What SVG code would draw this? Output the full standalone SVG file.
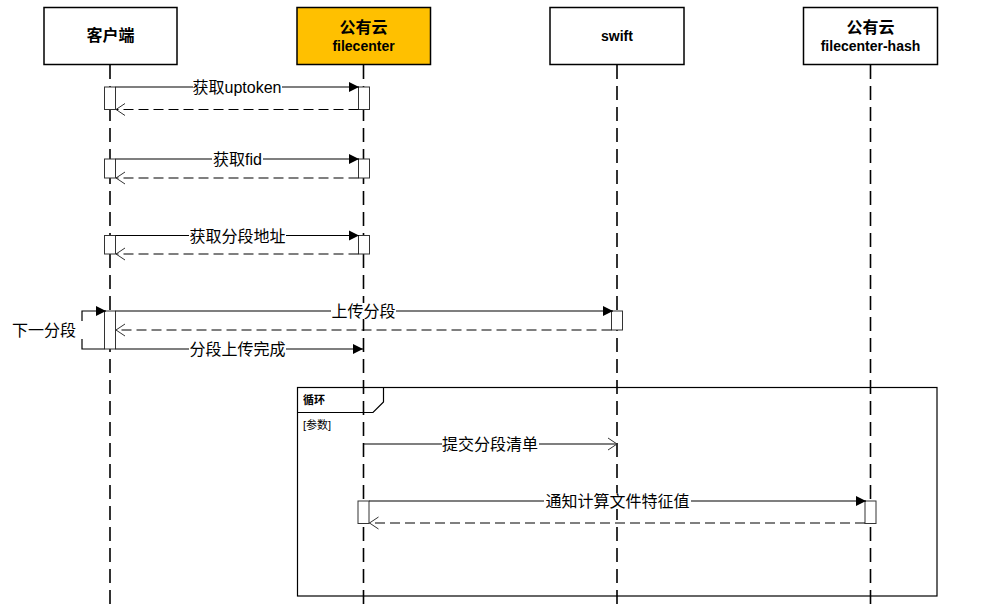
<svg xmlns="http://www.w3.org/2000/svg" width="1007" height="611" viewBox="0 0 1007 611">
<style>
text{font-family:"Liberation Sans","Noto Sans CJK SC",sans-serif;fill:#000}
.hdr{fill:#fff;stroke:#000;stroke-width:1.5}
.hl{font-size:16px;font-weight:bold;text-anchor:middle}
.hlat{font-size:14px;font-weight:bold;text-anchor:middle}
.life{stroke:#000;stroke-width:1.6;stroke-dasharray:14 7;fill:none}
.act{fill:#fff;stroke:#333;stroke-width:1}
.msg{stroke:#000;stroke-width:1.2;fill:none}
.ret{stroke:#000;stroke-width:1.2;fill:none;stroke-dasharray:10 5}
.lbl{font-size:16px;text-anchor:middle}
.bg{fill:#fff}
.frame{fill:none;stroke:#000;stroke-width:1.2}
.small{font-size:11px}
</style>
<defs>
<marker id="fill" markerUnits="userSpaceOnUse" markerWidth="11" markerHeight="11" refX="10" refY="5" orient="auto" overflow="visible">
<path d="M0,0 L10,5 L0,10 z" fill="#000"/>
</marker>
<marker id="open" markerUnits="userSpaceOnUse" markerWidth="11" markerHeight="12" refX="9" refY="6" orient="auto" overflow="visible">
<path d="M0,0 L9,6 L0,12" fill="none" stroke="#333" stroke-width="1"/>
</marker>
</defs>
<rect width="1007" height="611" fill="#fff"/>

<g id="loop-frame">
<rect class="frame" x="297.5" y="387.5" width="639.5" height="208.5"/>
<path class="frame" d="M297.5 412.5 H373 L383.5 402 V387.5"/>
<text class="small" x="303" y="403.5" font-weight="bold">循环</text>
<text class="small" x="303" y="428.5">[参数]</text>
</g>

<g id="client">
<rect class="hdr" x="44" y="7.5" width="133" height="57"/>
<text class="hl" x="110.5" y="41">客户端</text>
<line class="life" x1="110" y1="65" x2="110" y2="611"/>
</g>
<g id="filecenter">
<rect class="hdr" x="297" y="7.5" width="133.5" height="57" style="fill:#FFC000"/>
<text class="hl" x="363.5" y="33">公有云</text>
<text class="hlat" x="363.5" y="51">filecenter</text>
<line class="life" x1="363.5" y1="65" x2="363.5" y2="611"/>
</g>
<g id="swift">
<rect class="hdr" x="550" y="7.5" width="134" height="57"/>
<text class="hlat" x="617" y="41">swift</text>
<line class="life" x1="617" y1="65" x2="617" y2="611"/>
</g>
<g id="filecenter-hash">
<rect class="hdr" x="803.5" y="7.5" width="134" height="57"/>
<text class="hl" x="870.5" y="33">公有云</text>
<text class="hlat" x="870.5" y="51">filecenter-hash</text>
<line class="life" x1="870.5" y1="65" x2="870.5" y2="611"/>
</g>

<g id="activations">
<rect class="act" x="104.5" y="87" width="11" height="22.5"/>
<rect class="act" x="358.5" y="87" width="11" height="22.5"/>
<rect class="act" x="104.5" y="159" width="11" height="19"/>
<rect class="act" x="358.5" y="159" width="11" height="19"/>
<rect class="act" x="104.5" y="235.5" width="11" height="18.5"/>
<rect class="act" x="358.5" y="235.5" width="11" height="18.5"/>
<rect class="act" x="104.5" y="311" width="11" height="38"/>
<rect class="act" x="611.5" y="311" width="11" height="19"/>
<rect class="act" x="358" y="501" width="11" height="22.5"/>
<rect class="act" x="865" y="501" width="11" height="22.5"/>
</g>

<g id="connectors">
<line class="msg" x1="115.5" y1="87" x2="359" y2="87" marker-end="url(#fill)"/>
<line class="ret" x1="358.5" y1="109.5" x2="116" y2="109.5" marker-end="url(#open)"/>
<line class="msg" x1="115.5" y1="159" x2="359" y2="159" marker-end="url(#fill)"/>
<line class="ret" x1="358.5" y1="178" x2="116" y2="178" marker-end="url(#open)"/>
<line class="msg" x1="115.5" y1="235.5" x2="359" y2="235.5" marker-end="url(#fill)"/>
<line class="ret" x1="358.5" y1="254" x2="116" y2="254" marker-end="url(#open)"/>
<line class="msg" x1="115.5" y1="311" x2="613" y2="311" marker-end="url(#fill)"/>
<line class="ret" x1="611.5" y1="330" x2="116" y2="330" marker-end="url(#open)"/>
<path class="msg" d="M104.5 349 H82 V339"/>
<path class="msg" d="M82 321 V311 H106" marker-end="url(#fill)"/>
<line class="msg" x1="115.5" y1="349" x2="363" y2="349" marker-end="url(#fill)"/>
<line class="msg" x1="363.5" y1="444" x2="617" y2="444" marker-end="url(#open)"/>
<line class="msg" x1="369" y1="501" x2="866" y2="501" marker-end="url(#fill)"/>
<line class="ret" x1="865" y1="523" x2="369.5" y2="523" marker-end="url(#open)"/>
</g>

<g id="labels">
<rect class="bg" x="193" y="79" width="89" height="16"/>
<text class="lbl" x="237" y="93">获取uptoken</text>
<rect class="bg" x="212" y="151" width="51" height="16"/>
<text class="lbl" x="237.5" y="165">获取fid</text>
<rect class="bg" x="189" y="227.5" width="97" height="16"/>
<text class="lbl" x="237.5" y="241.5">获取分段地址</text>
<rect class="bg" x="331" y="303" width="65" height="16"/>
<text class="lbl" x="363.5" y="317">上传分段</text>
<rect class="bg" x="189" y="341" width="97" height="16"/>
<text class="lbl" x="237.5" y="355">分段上传完成</text>
<rect class="bg" x="442" y="436" width="97" height="16"/>
<text class="lbl" x="490" y="450">提交分段清单</text>
<rect class="bg" x="544" y="493" width="147" height="16"/>
<text class="lbl" x="617.5" y="507">通知计算文件特征值</text>
<text class="lbl" x="44" y="336">下一分段</text>
</g>
</svg>
